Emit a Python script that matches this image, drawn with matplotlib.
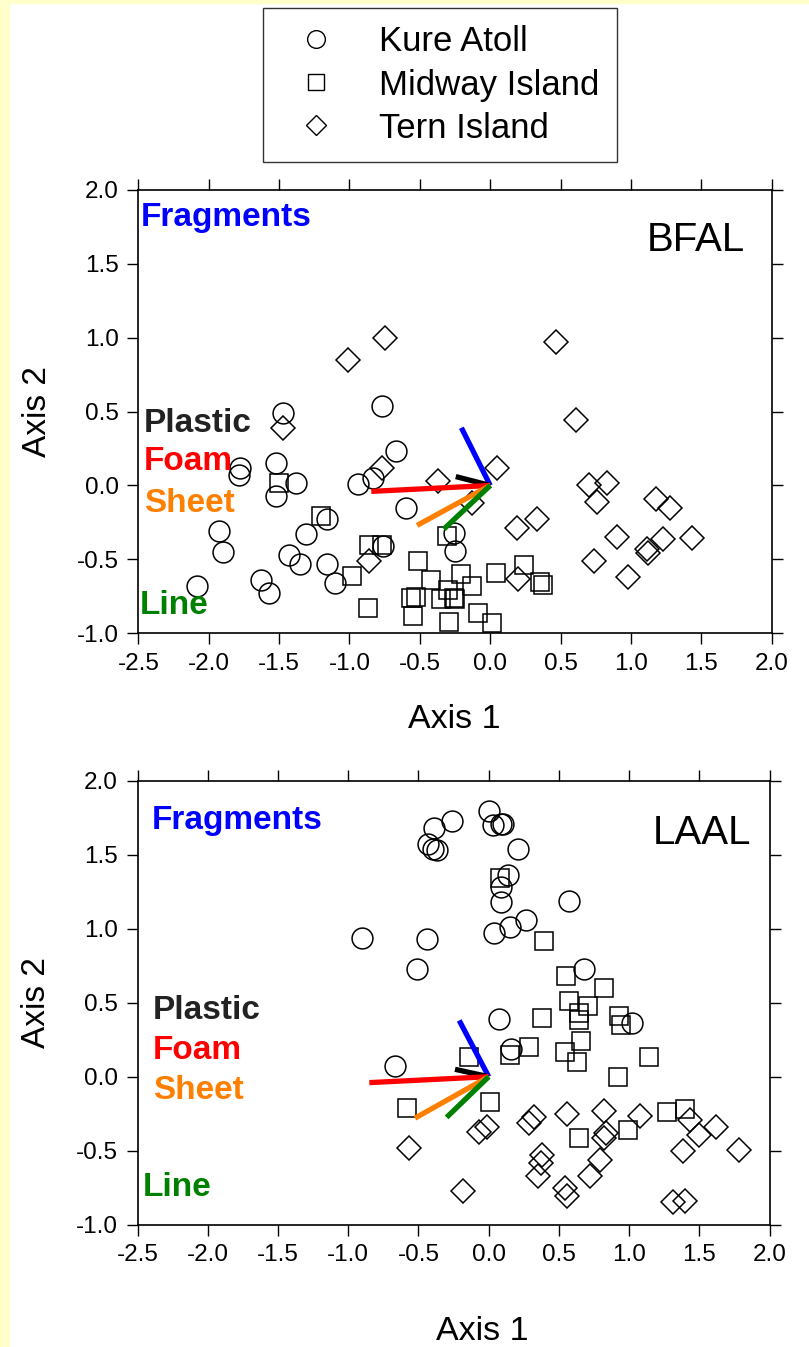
import numpy as np
import matplotlib
matplotlib.use('agg')
import matplotlib.pyplot as plt
from matplotlib.lines import Line2D
from matplotlib.patches import Rectangle

plt.rcParams['font.family'] = ['Liberation Sans', 'DejaVu Sans']

# ---- BFAL (top panel) ----
bfal_kure_x = [-1.47, -0.77, -1.78, -1.785, -1.52, -1.38, -1.52, -0.67, -0.94, -0.83, -0.60, -1.93, -1.90,
               -1.16, -1.31, -1.43, -1.35, -1.16, -1.10, -1.63, -1.57, -2.08, -0.76, -0.26, -0.25]
bfal_kure_y = [0.49, 0.54, 0.12, 0.07, 0.15, 0.02, -0.07, 0.23, 0.01, 0.05, -0.15, -0.31, -0.45,
               -0.23, -0.33, -0.47, -0.53, -0.53, -0.66, -0.64, -0.73, -0.68, -0.41, -0.32, -0.44]
bfal_midway_x = [-1.50, -1.20, -0.86, -0.77, -0.98, -0.87, -0.51, -0.42, -0.21, -0.13, -0.30, -0.25, -0.35,
                 -0.565, -0.525, -0.55, -0.29, -0.09, 0.01, 0.04, 0.24, 0.35, 0.375, -0.31, -0.26]
bfal_midway_y = [0.02, -0.205, -0.40, -0.40, -0.61, -0.83, -0.51, -0.64, -0.60, -0.68, -0.71, -0.77, -0.77,
                 -0.76, -0.757, -0.88, -0.92, -0.86, -0.93, -0.59, -0.54, -0.65, -0.67, -0.345, -0.76]
bfal_tern_x = [-0.75, -1.01, -1.47, -0.77, -0.37, -0.86, 0.47, 0.61, 0.05, -0.13, 0.19, 0.33, 0.20,
               0.70, 0.83, 0.755, 1.18, 1.28, 0.90, 0.74, 0.98, 1.23, 1.43, 1.11, 1.12]
bfal_tern_y = [1.00, 0.85, 0.39, 0.12, 0.03, -0.51, 0.97, 0.44, 0.12, -0.12, -0.29, -0.225, -0.63,
               0.0, 0.02, -0.115, -0.09, -0.15, -0.35, -0.51, -0.62, -0.36, -0.355, -0.43, -0.46]

# ---- LAAL (bottom panel) ----
laal_kure_x = [-0.90, -0.44, -0.51, -0.39, -0.26, -0.43, -0.40, -0.37, 0.0, 0.03, 0.09, 0.10, 0.21,
               0.135, 0.09, 0.09, 0.04, 0.15, 0.265, 0.57, 0.68, 0.07, 1.02, 0.16, -0.665]
laal_kure_y = [0.935, 0.93, 0.73, 1.68, 1.73, 1.57, 1.54, 1.53, 1.795, 1.70, 1.705, 1.71, 1.54,
               1.36, 1.28, 1.18, 0.97, 1.01, 1.06, 1.19, 0.73, 0.39, 0.36, 0.185, 0.07]
laal_midway_x = [0.08, 0.39, 0.55, 0.82, 0.57, 0.71, 0.64, 0.64, 0.93, 0.94, 0.38, 0.66, 0.54,
                 0.63, 0.29, 0.15, 1.14, 0.92, 0.01, 1.27, 1.40, 0.99, 0.645, -0.14, -0.58]
laal_midway_y = [1.34, 0.92, 0.68, 0.60, 0.51, 0.48, 0.43, 0.38, 0.41, 0.35, 0.40, 0.24, 0.165,
                 0.10, 0.20, 0.15, 0.135, 0.0, -0.17, -0.24, -0.215, -0.36, -0.415, 0.135, -0.21]
laal_tern_x = [-0.57, -0.185, -0.07, -0.01, 0.29, 0.32, 0.56, 0.82, 1.08, 0.835, 0.82, 1.43, 1.50,
               1.62, 1.385, 1.78, 0.38, 0.37, 0.35, 0.79, 0.72, 0.54, 0.555, 1.31, 1.40]
laal_tern_y = [-0.48, -0.77, -0.375, -0.34, -0.315, -0.275, -0.25, -0.23, -0.265, -0.38, -0.415, -0.29, -0.395,
               -0.34, -0.50, -0.495, -0.53, -0.585, -0.67, -0.56, -0.67, -0.755, -0.805, -0.845, -0.84]

# ---- variable vectors (same order in both panels) ----
vec_names = ['Fragments', 'Plastic', 'Foam', 'Sheet', 'Line']
vec_colors = ['#0000FF', '#000000', '#FF0000', '#FF8000', '#008000']
text_colors = ['#0000FF', '#222222', '#FF0000', '#FF8000', '#008000']
bfal_vec_x = [-0.205, -0.245, -0.845, -0.52, -0.33]
bfal_vec_y = [0.39, 0.06, -0.04, -0.27, -0.295]
laal_vec_x = [-0.21, -0.24, -0.85, -0.525, -0.30]
laal_vec_y = [0.38, 0.05, -0.04, -0.28, -0.275]

site_names = ['Kure Atoll', 'Midway Island', 'Tern Island']
site_markers = ['o', 's', 'D']
site_sizes = [15, 13.5, 12.5]

xticks = np.arange(-2.5, 2.01, 0.5)
yticks = np.arange(-1.0, 2.01, 0.5)


def draw_panel(ax, sites, vx, vy, title, name_pos, title_pos):
    for (sx, sy), m, ms in zip(sites, site_markers, site_sizes):
        ax.plot(sx, sy, ls='none', marker=m, ms=ms, mfc='none', mec='black', mew=1.1, zorder=2)
    for x1, y1, c in zip(vx, vy, vec_colors):
        ax.plot([0, x1], [0, y1], color=c, lw=3.8, solid_capstyle='butt', zorder=3)
    for (tx, ty), name, c in zip(name_pos, vec_names, text_colors):
        ax.text(tx, ty, name, color=c, fontsize=24, fontweight='bold', ha='left', va='center')
    ax.text(title_pos[0], title_pos[1], title, fontsize=29, ha='right', va='center')

    ax.set_xlim(-2.5, 2.0)
    ax.set_ylim(-1.0, 2.0)
    ax.set_xticks(xticks)
    ax.set_yticks(yticks)
    ax.set_xticklabels(['%.1f' % v for v in xticks])
    ax.set_yticklabels(['%.1f' % v for v in yticks])
    ax.tick_params(direction='out', length=8, width=1, labelsize=17.5, top=True, right=True,
                   labeltop=False, labelright=False, pad=6)
    for sp in ax.spines.values():
        sp.set_linewidth(1.2)
    ax.set_xlabel('Axis 1', fontsize=24.5)
    ax.set_ylabel('Axis 2', fontsize=24)


fig = plt.figure(figsize=(8.09, 13.47), dpi=100)
fig.patch.set_facecolor('white')
# pale yellow margin on the left / top edge
fig.add_artist(Rectangle((0, 0), 9 / 809, 1, transform=fig.transFigure, color='#FFFFCC', zorder=0))
fig.add_artist(Rectangle((0, 1 - 3 / 1347), 1, 3 / 1347, transform=fig.transFigure, color='#FFFFCC', zorder=0))

ax1 = fig.add_axes([0.171, 0.5298, 0.783, 0.3294])
ax2 = fig.add_axes([0.170, 0.0908, 0.7814, 0.3296])

draw_panel(ax1, [(bfal_kure_x, bfal_kure_y), (bfal_midway_x, bfal_midway_y), (bfal_tern_x, bfal_tern_y)],
           bfal_vec_x, bfal_vec_y, 'BFAL',
           [(-2.48, 1.81), (-2.46, 0.42), (-2.46, 0.16), (-2.46, -0.12), (-2.49, -0.81)], (1.81, 1.66))
draw_panel(ax2, [(laal_kure_x, laal_kure_y), (laal_midway_x, laal_midway_y), (laal_tern_x, laal_tern_y)],
           laal_vec_x, laal_vec_y, 'LAAL',
           [(-2.40, 1.73), (-2.39, 0.45), (-2.39, 0.18), (-2.39, -0.09), (-2.46, -0.75)], (1.87, 1.65))

ax1.xaxis.set_label_coords(0.498, -0.16)
ax2.xaxis.set_label_coords(0.546, -0.205)
ax1.yaxis.set_label_coords(-0.135, 0.5)
ax2.yaxis.set_label_coords(-0.135, 0.5)

handles = [Line2D([], [], ls='none', marker=m, ms=ms * 0.85, mfc='none', mec='black', mew=1.0)
           for m, ms in zip(site_markers, site_sizes)]
leg = fig.legend(handles, site_names, loc='upper center', bbox_to_anchor=(0.5435, 0.994),
                 fontsize=25, frameon=True, fancybox=False, edgecolor='black', borderaxespad=0,
                 handletextpad=0.75, labelspacing=0.29, borderpad=0.5, handlelength=2.1)
leg.get_frame().set_linewidth(1.0)

plt.savefig('out.png', dpi=100, facecolor=fig.get_facecolor())
plt.close()
